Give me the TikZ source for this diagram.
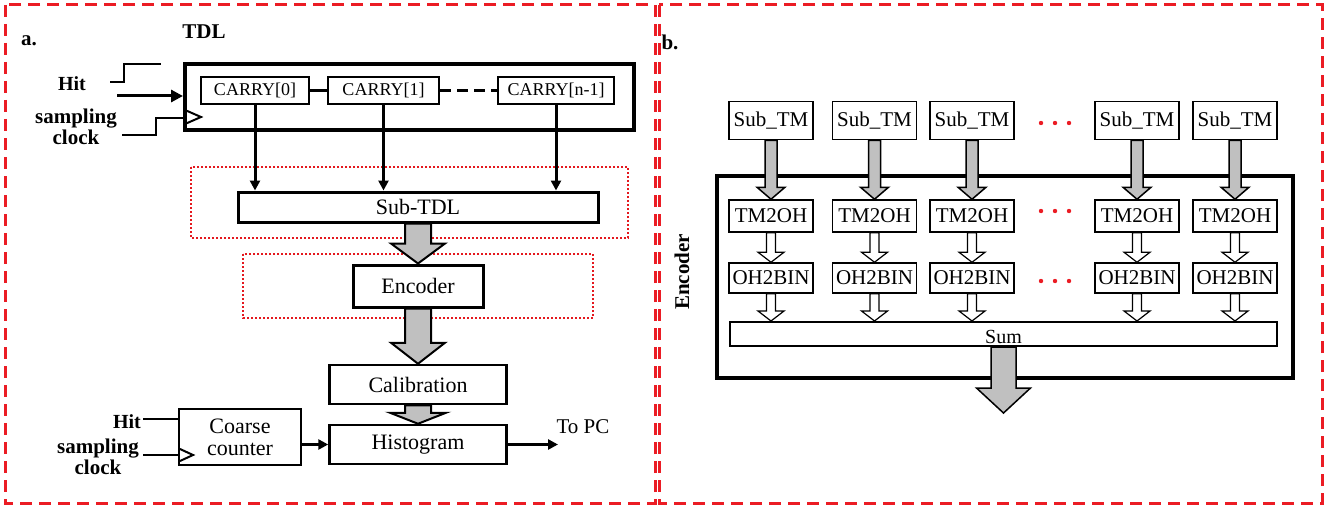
\documentclass[tikz,border=0pt]{standalone}
\usepackage{fontspec}
\setmainfont{Liberation Serif}
\usetikzlibrary{arrows.meta,calc}
\definecolor{dred}{RGB}{235,28,36}
\definecolor{dotred}{RGB}{228,24,30}
\definecolor{agray}{RGB}{192,192,192}
\newcommand\fs[1]{\fontsize{#1}{#1}\selectfont}
% #1 style, #2 from, #3 to, #4 shaft half, #5 head half, #6 head length
\newcommand\fatarr[6]{\draw[#1] let \p1=(#2), \p2=(#3) in
  (\x1-#4,\y1) -- (\x1-#4,\y2+#6) -- (\x1-#5,\y2+#6) -- (\x1,\y2) --
  (\x1+#5,\y2+#6) -- (\x1+#4,\y2+#6) -- (\x1+#4,\y1) -- cycle;}
\tikzset{
  panel/.style={draw=dred,line width=3pt,dash pattern=on 12pt off 7pt},
  dotbox/.style={draw=dotred,line width=2pt,dash pattern=on 2pt off 2pt},
  lbox/.style={draw,line width=3pt,inner sep=0pt,fill=white,font=\fs{22}},
  cbox/.style={draw,line width=2.5pt,inner sep=0pt,minimum height=27pt,fill=white,font=\fs{18}},
  rbox/.style={draw,line width=1.5pt,inner sep=0pt,minimum width=84pt,fill=white,font=\fs{21}},
  lab/.style={font=\fs{21}\bfseries,align=center,inner sep=0pt},
  wire/.style={line width=2.5pt},
  arr/.style={line width=3pt,-{Triangle[length=10pt,width=10pt]}},
  grayarr/.style={draw=black,fill=agray,line width=2pt,line join=miter},
  whitearr/.style={draw=black,fill=white,line width=1.2pt,line join=miter},
}
\begin{document}
\begin{tikzpicture}[x=1pt,y=-1pt]
\useasboundingbox (0,0) rectangle (1340,508);
\fill[white] (0,0) rectangle (1340,508);
% panels
\draw[panel] (5,5) rectangle (655,503);
\draw[panel] (659,5) rectangle (1322,503);
\node[lab] (la) at (29,41) {a.};
\node[lab] (lb) at (670,42) {b.};
% ---------------- panel a
\node[lab] (tdllab) at (204,32) {TDL};
\node[draw,line width=4pt,minimum width=449pt,minimum height=66pt,inner sep=0pt] (tdl) at (409.5,97) {};
\node[cbox,minimum width=108pt] (c0) at (255,90.5) {CARRY[0]};
\node[cbox,minimum width=111pt] (c1) at (383.5,90.5) {CARRY[1]};
\node[cbox,minimum width=116pt] (cn) at (556,90.5) {CARRY[n-1]};
\draw[line width=3pt] (c0.east) -- (c1.west);
\draw[line width=3pt,dash pattern=on 11pt off 6pt] (c1.east) -- (cn.west);
% hit input
\node[lab,font=\fs{20}\bfseries] (hit) at (72,84) {Hit};
\coordinate (hs) at (110,82);
\draw[line width=1.5pt] (hs) -- ++(14,0) -- ++(0,-18) -- ++(37,0);
\coordinate (hitin) at (117,96);
\draw[line width=3pt,-{Triangle[length=12pt,width=12pt]}] (hitin) -- (tdl.west |- hitin);
% sampling clock
\node[lab,font=\fs{21}\bfseries,align=center] (sc) at (76,127) {\fontsize{21}{19}\selectfont sampling\\clock};
\coordinate (scs) at (122,135);
\draw[wire] (scs) -- (156,135) -- (156,118) -- (tdl.west |- 0,118);
\draw[line width=2pt] (185,110) -- (201,117) -- (185,124);
% sub-tdl
\draw[dotbox] (191,167) rectangle (628,238);
\node[lbox,minimum width=360pt,minimum height=30pt] (sub) at (418,207) {Sub-TDL};
\foreach \c in {c0,c1,cn} \draw[arr] (\c.south) -- (\c.south |- sub.north);
% encoder
\draw[dotbox] (243,254) rectangle (593,318);
\node[lbox,minimum width=130pt,minimum height=42pt] (enc) at (418,286) {Encoder};
\node[lbox,line width=2.5pt,minimum width=177pt,minimum height=39pt] (cal) at (418,384.5) {Calibration};
\node[lbox,line width=2.5pt,minimum width=177pt,minimum height=39pt] (hist) at (418,444.5) {Histogram};
\fatarr{grayarr}{sub.south}{enc.north}{13pt}{27pt}{20pt}
\fatarr{grayarr}{enc.south}{cal.north}{13pt}{27pt}{21pt}
\fatarr{grayarr}{cal.south}{hist.north}{13pt}{28pt}{11pt}
% coarse counter
\node[lbox,line width=2.5pt,minimum width=122pt,minimum height=56pt,align=center,font=\fontsize{22}{22}\selectfont] (cc) at (240,437) {Coarse\\counter};
\draw[arr] (cc.east |- hist) -- (hist.west);
\coordinate (topc) at (558,444.5);
\draw[arr] (hist.east) -- (topc);
\node[font=\fs{21},inner sep=0pt] (topcl) at (583,427) {To PC};
\node[lab,font=\fs{20}\bfseries] (hit2) at (127,422) {Hit};
\coordinate (h2s) at (143,419);
\draw[wire] (h2s) -- (cc.west |- h2s);
\node[lab] (sc2) at (98,457) {\fontsize{21}{17}\selectfont sampling\\clock};
\coordinate (s2s) at (143,455);
\draw[wire] (s2s) -- (cc.west |- s2s);
\draw[line width=2pt] (180,449) -- (193,455) -- (180,461);
% ---------------- panel b
\node[lab,rotate=90] (enclab) at (682,272) {Encoder};
\draw[line width=4pt] (717,176) rectangle (1293,378);
\foreach \i/\x in {1/771,2/874.5,3/972,4/1137,5/1235}{
  \node[rbox,minimum height=38pt] (s\i) at (\x,120.5) {Sub\_TM};
  \node[rbox,minimum height=32pt] (t\i) at (\x,216) {TM2OH};
  \node[rbox,minimum height=30pt] (o\i) at (\x,278) {OH2BIN};
}
\node[draw,line width=2pt,minimum width=547pt,minimum height=24pt,inner sep=0pt] (sum) at (1003.5,334) {};
\node[font=\fs{20},inner sep=0pt] (sumt) at (1003.5,337) {Sum};
\foreach \i in {1,...,5}{
  \fatarr{grayarr,line width=1.5pt}{s\i.south}{t\i.north}{6pt}{14pt}{12pt}
  \fatarr{whitearr}{t\i.south}{o\i.north}{4.5pt}{13pt}{10pt}
  \fatarr{whitearr}{o\i.south}{o\i.south |- sum.north}{4.5pt}{13pt}{10pt}
}
\foreach \y in {123,211,281}
  \foreach \x in {1041,1055,1069}
    \fill[dred] (\x,\y) circle (2.2pt);
\coordinate (sumout) at (1004,413);
\fatarr{grayarr,line width=1.5pt}{sum.south}{sumout}{12.5pt}{27pt}{25pt}
\end{tikzpicture}
\end{document}
